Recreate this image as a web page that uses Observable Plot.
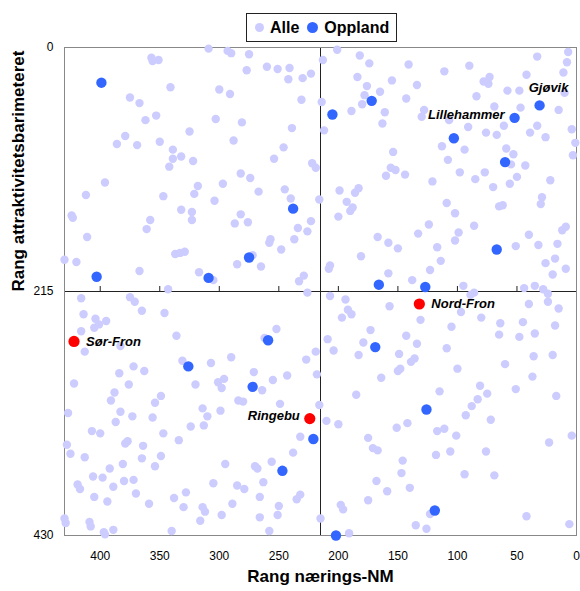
<!DOCTYPE html>
<html><head><meta charset="utf-8">
<script src="https://cdn.jsdelivr.net/npm/d3@7"></script>
<script src="https://cdn.jsdelivr.net/npm/@observablehq/plot@0.6"></script>
<style>
body{margin:0;background:#fff;}
#wrap{position:relative;width:580px;height:591px;font-family:"Liberation Sans",Arial,Helvetica,sans-serif;}
#legend{position:absolute;left:246px;top:13px;height:27px;border:1px solid #222;display:flex;align-items:center;padding:0 7px 0 8px;font-weight:bold;font-size:16px;background:#fff;color:#000;z-index:2;}
.sw{display:inline-block;border-radius:50%;margin-right:6px}
#wrap svg{position:absolute;left:0;top:0;}
</style></head><body><div id="wrap"><div id="legend"></div></div>
<script>
// [rang nærings-NM, rang attraktivitetsbarometeret]
const alleUpperLeft = [[309,1],[293,3],[290,5],[357,9],[356,12],[351,11],[341,35],[300,37],[291,41],[375,44],[367,49],[353,60],[362,64],[303,63],[325,74],[379,78],[386,85],[369,86],[350,83],[288,82],[339,90],[339,98],[332,96],[322,100],[342,105],[396,119],[318,122],[297,120],[412,130],[347,131],[321,129],[304,135],[424,148],[423,150],[332,143],[323,145],[323,152],[358,152],[287,155],[361,160],[411,167],[337,182],[333,181],[329,180],[430,187],[420,189],[285,191],[367,197],[317,198],[305,205],[343,213],
[275,6],[277,20],[260,17],[251,19],[241,18],[242,28],[230,27],[223,23],[231,46],[281,66],[239,71],[246,88],[254,98],[222,102],[219,106],[282,111],[274,115],[267,127],[245,125],[240,133],[216,134],[282,147],[276,154],[223,153],[234,159],[226,162],[257,169],[258,172],[237,169],[248,178],[272,183],[265,193],[229,201],[233,206]];
const alleUpperRight = [[214,48],[213,11],[201,2],[182,7],[174,14],[184,26],[155,29],[176,34],[178,42],[165,39],[180,50],[189,56],[161,57],[163,67],[143,45],[212,73],[154,92],[156,106],[152,108],[160,113],[144,112],[199,126],[183,124],[186,128],[193,136],[188,141],[190,144],[200,149],[167,167],[158,172],[150,177],[181,184],[207,192],[208,195],[158,199],
[141,15],[111,21],[90,16],[134,33],[128,55],[130,61],[107,64],[78,30],[73,26],[74,32],[84,43],[58,38],[48,38],[42,24],[33,8],[7,4],[8,13],[11,22],[10,40],[15,55],[47,53],[69,52],[91,70],[76,75],[67,77],[61,69],[39,75],[33,69],[26,79],[4,72],[1,84],[3,95],[113,87],[94,90],[108,99],[59,89],[53,94],[55,103],[43,104],[50,114],[98,110],[85,116],[77,110],[70,123],[56,120],[121,118],[22,117],[29,132],[30,138],[65,140],[62,139],[109,137],[102,146],[124,156],[133,164],[99,163],[86,157],[102,170],[117,176],[114,188],[123,196],[138,205],[51,175],[40,165],[32,174],[16,173],[12,161],[9,158],[26,190],[18,186],[20,200],[9,195],[95,210],[44,212],[35,210],[28,213]];
const alleLowerLeft = [[416,221],[375,220],[371,224],[365,232],[346,234],[414,235],[404,239],[401,244],[405,247],[395,241],[416,250],[336,254],[383,263],[413,268],[331,276],[307,278],[290,273],[372,281],[363,285],[384,287],[422,296],[376,297],[320,297],[301,295],[296,292],[298,300],[388,304],[391,311],[349,307],[354,313],[427,322],[383,321],[373,325],[387,330],[356,326],[314,318],[310,325],[299,320],[324,334],[313,333],[407,338],[400,340],[347,340],[334,346],[379,349],[377,347],[364,351],[428,350],[425,358],[413,361],[365,362],[349,360],[354,369],[381,367],[392,371],[295,367],[406,378],[398,379],[380,382],[372,381],[419,385],[417,389],[389,387],[405,396],[394,400],[370,393],[359,402],[338,397],[328,392],[305,384],[285,386],[330,405],[314,405],[312,409],[316,417],[298,412],[289,402],[430,415],[429,419],[409,418],[408,422],[397,427],[396,429],[389,425],[340,426],
[226,216],[252,248],[262,256],[219,268],[227,275],[271,286],[255,293],[243,289],[218,288],[264,302],[284,311],[280,312],[249,314],[216,315],[232,343],[238,357],[256,365],[270,369],[268,371],[263,383],[279,389],[266,396],[232,394],[235,398],[250,404],[251,412],[266,414],[258,426]];
const alleLowerRight = [[207,219],[194,222],[192,231],[189,235],[197,238],[157,228],[209,257],[204,267],[173,249],[179,260],[183,271],[143,254],[149,270],[150,285],[148,283],[164,291],[185,306],[210,329],[200,332],[151,335],[142,331],[175,344],[171,353],[167,355],[146,364],[147,375],[168,382],[159,391],[198,403],[196,407],[175,399],[215,415],[191,428],
[86,216],[89,218],[24,217],[40,226],[24,224],[15,230],[97,233],[80,238],[131,240],[105,246],[64,243],[45,242],[18,245],[65,253],[48,255],[35,252],[134,261],[109,265],[136,274],[139,277],[100,283],[60,279],[36,272],[20,271],[37,290],[115,303],[81,298],[75,305],[83,310],[88,316],[93,324],[51,301],[17,307],[72,328],[117,338],[111,336],[101,342],[118,359],[106,356],[76,356],[23,348],[4,342],[94,376],[69,377],[140,388],[123,411],[135,421],[126,424],[42,413],[6,420]];

const opplandNM   = [399,403,309,205,172,238,275,166,103,52,31,60,67,127,326,259,169,272,221,247,202,126,119];
const opplandAttr = [31,202,203,59,47,142,185,209,80,62,51,101,178,211,281,258,264,299,345,373,430,319,408];
const opplandName = ["","","","","","","","","","Lillehammer","Gjøvik","","","","","","","","","","","",""];

const markedName = ["Sør-Fron","Nord-Fron","Ringebu"];
const markedNM   = [422,132,224];
const markedAttr = [259,226,327];

const xTicks = [400,350,300,250,200,150,100,50,0];
const yTicks = [0,215,430];
const midRank = 215;
const xLabel = "Rang nærings-NM";
const yLabel = "Rang attraktivitetsbarimeteret";
const legendItems = [{label:"Alle", color:"#ccccff", size:9},{label:"Oppland", color:"#3366ff", size:11}];

const alle = [...alleUpperLeft, ...alleUpperRight, ...alleLowerLeft, ...alleLowerRight].map(([nm, attr]) => ({nm, attr}));
const oppland = opplandNM.map((nm, i) => ({nm, attr: opplandAttr[i], name: opplandName[i]}));
const marked = markedName.map((name, i) => ({name, nm: markedNM[i], attr: markedAttr[i]}));

const labelFont = {fontWeight: "bold", fontStyle: "italic", fontSize: 13, fill: "#000"};

const chart = Plot.plot({
  width: 580, height: 591,
  marginTop: 47, marginBottom: 56, marginLeft: 64, marginRight: 4,
  style: {fontFamily: "'Liberation Sans', Arial, Helvetica, sans-serif", fontSize: "12px", color: "#000", background: "transparent"},
  x: {domain: [430, 0], ticks: xTicks, tickSize: 0, tickPadding: 16, label: null},
  y: {domain: [0, 430], reverse: true, ticks: yTicks, tickSize: 0, tickPadding: 11, label: null},
  marks: [
    Plot.ruleX([midRank], {stroke: "#222"}),
    Plot.ruleY([midRank], {stroke: "#222"}),
    Plot.ruleX(xTicks, {x: d => d, y1: midRank, y2: midRank, insetTop: -5, stroke: "#222"}),
    Plot.ruleY(yTicks, {y: d => d, x1: midRank, x2: midRank, insetRight: -5, stroke: "#222"}),
    Plot.frame({stroke: "#888"}),
    Plot.dot(alle, {x: "nm", y: "attr", r: 4.2, fill: "#ccccff"}),
    Plot.dot(oppland, {x: "nm", y: "attr", r: 5.2, fill: "#3366ff"}),
    Plot.dot(marked, {x: "nm", y: "attr", r: 5.6, fill: "#ff0000"}),
    Plot.text(oppland.filter(d => d.name === "Lillehammer"), {x: "nm", y: "attr", text: "name", textAnchor: "end", dx: -10, dy: -3, ...labelFont}),
    Plot.text(oppland.filter(d => d.name === "Gjøvik"), {x: "nm", y: "attr", text: "name", textAnchor: "middle", dx: 9, dy: -18, ...labelFont}),
    Plot.text(marked.filter(d => d.name !== "Ringebu"), {x: "nm", y: "attr", text: "name", textAnchor: "start", dx: 12, dy: 0, ...labelFont}),
    Plot.text(marked.filter(d => d.name === "Ringebu"), {x: "nm", y: "attr", text: "name", textAnchor: "end", dx: -10, dy: -3, ...labelFont}),
    Plot.text([xLabel], {text: d => d, frameAnchor: "bottom", dy: 46, fontWeight: "bold", fontSize: 17, fill: "#000"}),
    Plot.text([yLabel], {text: d => d, frameAnchor: "left", rotate: -90, dx: -46, fontWeight: "bold", fontSize: 17, fill: "#000"})
  ]
});
document.getElementById("wrap").appendChild(chart);

const legend = document.getElementById("legend");
legendItems.forEach((it, i) => {
  const s = document.createElement("span");
  s.className = "sw";
  s.style.width = it.size + "px"; s.style.height = it.size + "px"; s.style.background = it.color;
  if (i > 0) s.style.marginLeft = "8px";
  legend.appendChild(s);
  const t = document.createElement("span");
  t.textContent = it.label;
  legend.appendChild(t);
});
</script>
</body></html>
